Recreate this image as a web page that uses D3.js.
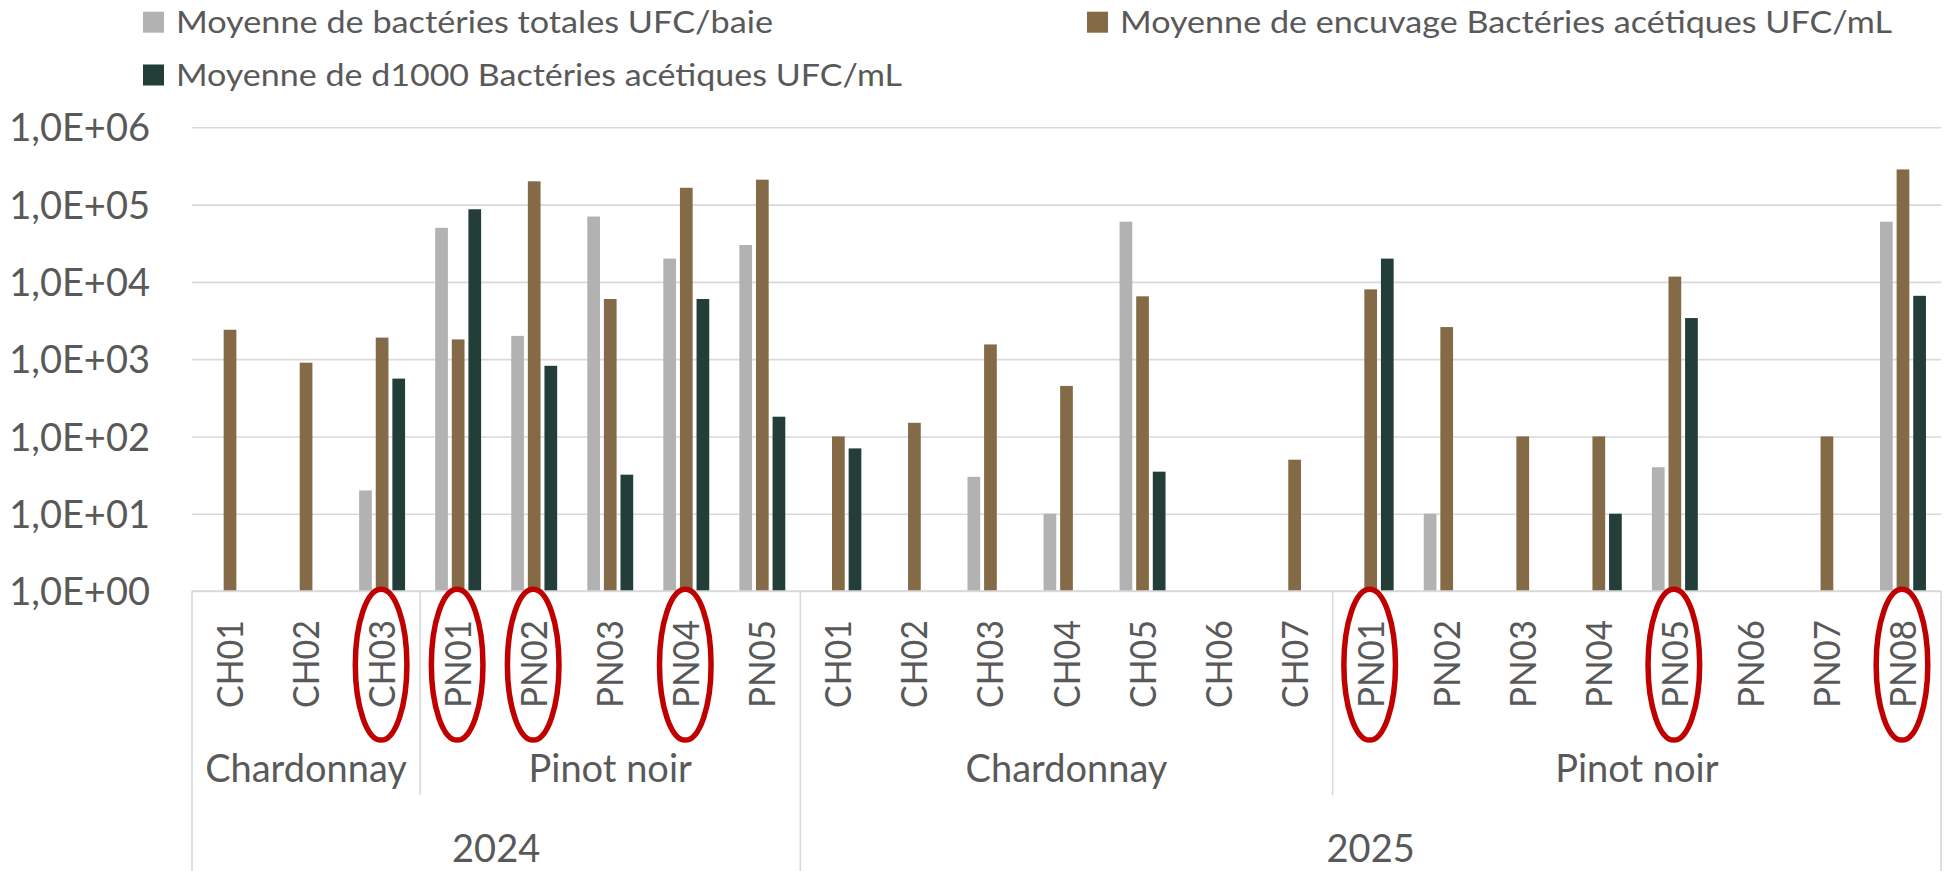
<!DOCTYPE html>
<html>
<head>
<meta charset="utf-8">
<script src="https://cdn.jsdelivr.net/npm/d3@7"></script>
<style>
  html, body { margin: 0; padding: 0; background: #ffffff; }
  svg { display: block; }
  text { font-family: Lato, "Open Sans", sans-serif; fill: #595959; }
</style>
</head>
<body>
<svg id="chart" width="1945" height="871"></svg>
<script>
// Sample codes along the category axis, with their variety and harvest year
const codes = ["CH01","CH02","CH03","PN01","PN02","PN03","PN04","PN05",
               "CH01","CH02","CH03","CH04","CH05","CH06","CH07",
               "PN01","PN02","PN03","PN04","PN05","PN06","PN07","PN08"];
const varieties = ["Chardonnay","Chardonnay","Chardonnay","Pinot noir","Pinot noir","Pinot noir","Pinot noir","Pinot noir",
                   "Chardonnay","Chardonnay","Chardonnay","Chardonnay","Chardonnay","Chardonnay","Chardonnay",
                   "Pinot noir","Pinot noir","Pinot noir","Pinot noir","Pinot noir","Pinot noir","Pinot noir","Pinot noir"];
const years = ["2024","2024","2024","2024","2024","2024","2024","2024",
               "2025","2025","2025","2025","2025","2025","2025",
               "2025","2025","2025","2025","2025","2025","2025","2025"];

// Mean counts (null = no value)
const bacteriesTotales = [null, null, 20, 50000, 2000, 70000, 20000, 30000,
                          null, null, 30, 10, 60000, null, null,
                          null, 10, null, null, 40, null, null, 60000];
const encuvageAcetiques = [2400, 900, 1900, 1800, 200000, 6000, 165000, 210000,
                           100, 150, 1550, 450, 6500, null, 50,
                           8000, 2600, 100, 100, 11700, null, 100, 285000];
const d1000Acetiques = [null, null, 560, 87000, 820, 32, 6000, 180,
                        70, null, null, null, 35, null, null,
                        20000, null, null, 10, 3400, null, null, 6600];

const seriesNames = ["Moyenne de bactéries totales UFC/baie",
                     "Moyenne de encuvage Bactéries acétiques UFC/mL",
                     "Moyenne de d1000 Bactéries acétiques UFC/mL"];
const seriesColors = ["#b2b2b2", "#846a46", "#233d38"];
const seriesValues = [bacteriesTotales, encuvageAcetiques, d1000Acetiques];

// Tick values of the logarithmic axis
const yTicks = [1, 10, 100, 1000, 10000, 100000, 1000000];

// Samples circled in red
const circled = [2, 3, 4, 6, 15, 19, 22];

const svg = d3.select("#chart");

const plotLeft = 192, plotRight = 1941, plotTop = 127.3, plotBottom = 591;
const idx = d3.range(codes.length);

const x = d3.scaleBand().domain(idx).range([plotLeft, plotRight])
  .paddingInner(0.396).paddingOuter(0.198);
const xs = d3.scaleBand().domain([0, 1, 2]).range([0, x.bandwidth()])
  .paddingInner(0.235);
const y = d3.scaleLog().domain([1, 1e6]).range([plotBottom, plotTop]);
const step = x.step();
const catCenter = i => plotLeft + step * (i + 0.5);

// Excel-style scientific format, e.g. 1,0E+06
function sci(v) {
  const e = Math.floor(Math.log10(v) + 1e-9);
  const m = v / Math.pow(10, e);
  const sign = e < 0 ? "-" : "+";
  return m.toFixed(1).replace(".", ",") + "E" + sign + String(Math.abs(e)).padStart(2, "0");
}

// Horizontal gridlines
const yAxis = d3.axisLeft(y).tickValues(yTicks).tickFormat(sci).tickSize(0).tickPadding(0);
const yg = svg.append("g").attr("transform", `translate(${plotLeft},0)`).call(yAxis);
yg.select(".domain").remove();
yg.selectAll(".tick line")
  .attr("x2", plotRight - plotLeft)
  .attr("stroke", "#d9d9d9").attr("stroke-width", 1.6);
yg.selectAll(".tick text")
  .attr("x", -42).attr("dy", "0.36em")
  .attr("text-anchor", "end")
  .style("font-size", "38px").style("font-family", "Lato, sans-serif")
  .attr("fill", "#595959");

// Bars
seriesValues.forEach((vals, s) => {
  svg.append("g").selectAll("rect")
    .data(idx.filter(i => vals[i] != null))
    .join("rect")
    .attr("x", i => x(i) + xs(s))
    .attr("width", xs.bandwidth())
    .attr("y", i => y(vals[i]))
    .attr("height", i => y(1) - y(vals[i]))
    .attr("fill", seriesColors[s]);
});

// Category axis lines
const axisCol = "#d9d9d9";
const gAxis = svg.append("g").attr("stroke", axisCol).attr("stroke-width", 1.6).attr("fill", "none");
gAxis.append("line").attr("x1", plotLeft).attr("x2", plotRight).attr("y1", plotBottom).attr("y2", plotBottom);

// group boundaries
function runs(arr) {
  const out = [];
  arr.forEach((v, i) => {
    const key = years[i] + "|" + v;
    if (out.length && out[out.length - 1].key === key) out[out.length - 1].end = i;
    else out.push({ key, label: v, start: i, end: i });
  });
  return out;
}
const varietyRuns = runs(varieties);
const yearRuns = [];
years.forEach((v, i) => {
  if (yearRuns.length && yearRuns[yearRuns.length - 1].label === v) yearRuns[yearRuns.length - 1].end = i;
  else yearRuns.push({ label: v, start: i, end: i });
});

const edge = i => plotLeft + step * i;
const varietyBottom = 795, yearBottom = 871;
// Lines between varieties inside a year
varietyRuns.forEach(r => {
  const isYearStart = yearRuns.some(yr => yr.start === r.start);
  if (!isYearStart) {
    gAxis.append("line").attr("x1", edge(r.start)).attr("x2", edge(r.start))
      .attr("y1", plotBottom).attr("y2", varietyBottom);
  }
});
// Lines bounding the years
yearRuns.forEach(r => {
  gAxis.append("line").attr("x1", edge(r.start)).attr("x2", edge(r.start))
    .attr("y1", plotBottom).attr("y2", yearBottom);
});
gAxis.append("line").attr("x1", plotRight).attr("x2", plotRight)
  .attr("y1", plotBottom).attr("y2", yearBottom);

// Sample code labels (rotated)
svg.append("g").selectAll("text")
  .data(idx).join("text")
  .attr("transform", i => `translate(${catCenter(i) + 13},664) rotate(-90)`)
  .attr("text-anchor", "middle")
  .attr("textLength", 88).attr("lengthAdjust", "spacingAndGlyphs")
  .style("font-size", "37px")
  .text(i => codes[i]);

// Variety labels
svg.append("g").selectAll("text")
  .data(varietyRuns).join("text")
  .attr("x", r => (edge(r.start) + edge(r.end + 1)) / 2)
  .attr("y", 782)
  .attr("text-anchor", "middle")
  .style("font-size", "38px")
  .text(r => r.label);

// Year labels
svg.append("g").selectAll("text")
  .data(yearRuns).join("text")
  .attr("x", r => (edge(r.start) + edge(r.end + 1)) / 2)
  .attr("y", 862)
  .attr("text-anchor", "middle")
  .style("font-size", "38px")
  .text(r => r.label);

// Red circles around highlighted samples
svg.append("g").selectAll("ellipse")
  .data(circled).join("ellipse")
  .attr("cx", i => catCenter(i) - 1)
  .attr("cy", 664.7)
  .attr("rx", 25.8).attr("ry", 75.4)
  .attr("fill", "none").attr("stroke", "#c00000").attr("stroke-width", 5.5);

// Legend
const legendPos = [{ x: 143, y: 11.7 }, { x: 1087, y: 11.7 }, { x: 143, y: 64.5 }];
const legendWidths = [597, 772, 726];
const lg = svg.append("g").selectAll("g")
  .data(seriesNames.map((n, s) => s)).join("g")
  .attr("transform", s => `translate(${legendPos[s].x},${legendPos[s].y})`);
lg.append("rect").attr("width", 21).attr("height", 21).attr("fill", s => seriesColors[s]);
lg.append("text")
  .attr("x", 33).attr("y", 21.5)
  .attr("textLength", s => legendWidths[s]).attr("lengthAdjust", "spacingAndGlyphs")
  .style("font-size", "31px")
  .text(s => seriesNames[s]);
</script>
</body>
</html>
